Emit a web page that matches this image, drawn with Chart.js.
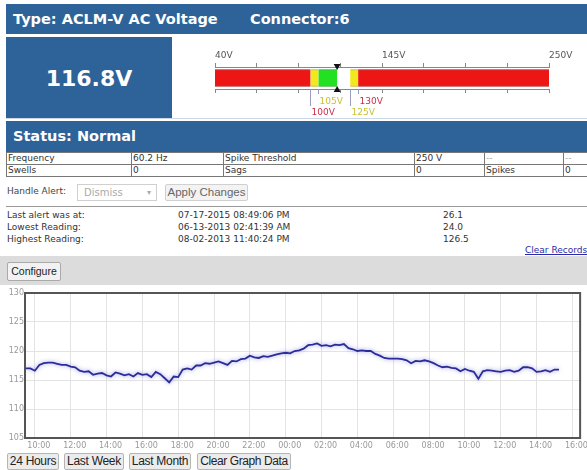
<!DOCTYPE html>
<html>
<head>
<meta charset="utf-8">
<script src="https://cdn.jsdelivr.net/npm/chart.js@4.4.1/dist/chart.umd.min.js"></script>
<style>
  body { margin: 0; width: 587px; height: 470px; overflow: hidden; background: #fff; position: relative;
         font-family: "DejaVu Sans", Verdana, sans-serif; color: #333; }
  .abs { position: absolute; }
  .blue { background: #2e6399; color: #fff; font-weight: bold; }
  .info { border-collapse: collapse; table-layout: fixed; width: 597px; font-size: 9px; }
  .info td { border: 1px solid #777; height: 11px; padding: 0 1px; line-height: 11px; white-space: nowrap; overflow: hidden; }
  .info td.dim { color: #aaa; }
  .small { font-size: 9px; line-height: 12px; }
  .btn { position: absolute; box-sizing: border-box; border: 1px solid #b5b5b5; background: #ececec; border-radius: 2px;
         font-family: "Liberation Sans", Arial, sans-serif; color: #222; text-align: center; white-space: nowrap; padding: 0; }
</style>
</head>
<body>
  <div class="abs blue" style="left:6px;top:4px;width:581px;height:30px;font-size:14.5px;line-height:31px;">
    <span class="abs" style="left:7px;">Type: ACLM-V AC Voltage</span>
    <span class="abs" style="left:244px;">Connector:6</span>
  </div>
  <div class="abs blue" style="left:6px;top:37px;width:166px;height:81px;font-size:22px;line-height:83px;text-align:center;">116.8V</div>
  <div class="abs" style="left:172px;top:37px;width:415px;height:81px;">
    <canvas id="gauge" width="415" height="81"></canvas>
  </div>
  <div class="abs" style="left:6px;top:118px;width:581px;height:1px;background:#c8d8ea;"></div>
  <div class="abs blue" style="left:6px;top:121px;width:581px;height:31px;font-size:14.5px;line-height:31px;">
    <span class="abs" style="left:7px;">Status: Normal</span>
  </div>

  <table class="info abs" style="left:6px;top:152px;">
    <colgroup><col style="width:125px"><col style="width:92px"><col style="width:191px"><col style="width:70px"><col style="width:79px"><col style="width:40px"></colgroup>
    <tr><td>Frequency</td><td>60.2 Hz</td><td>Spike Threshold</td><td>250 V</td><td class="dim">--</td><td class="dim">--</td></tr>
    <tr><td>Swells</td><td>0</td><td>Sags</td><td>0</td><td>Spikes</td><td>0</td></tr>
  </table>

  <div class="abs" style="left:7px;top:186px;font-size:9px;color:#444;">Handle Alert:</div>
  <div class="abs" style="left:77px;top:184px;width:78px;height:15px;border:1px solid #d0d0d0;font-size:10px;line-height:15px;color:#aaa;">
    <span class="abs" style="left:6px;">Dismiss</span><span class="abs" style="right:5px;font-size:8px;">&#9662;</span>
  </div>
  <div class="btn" style="left:165px;top:184px;width:83px;height:17px;font-size:11.5px;line-height:15px;color:#666;background:#f3f3f3;border-color:#d0d0d0;">Apply Changes</div>
  <div class="abs" style="left:6px;top:206px;width:581px;height:1px;background:#999;"></div>

  <div class="abs small" style="left:7px;top:209px;">Last alert was at:<br>Lowest Reading:<br>Highest Reading:</div>
  <div class="abs small" style="left:178px;top:209px;">07-17-2015 08:49:06 PM<br>06-13-2013 02:41:39 AM<br>08-02-2013 11:40:24 PM</div>
  <div class="abs small" style="left:443px;top:209px;">26.1<br>24.0<br>126.5</div>
  <div class="abs small" style="left:525px;top:244px;color:#2a2aa8;text-decoration:underline;white-space:nowrap;">Clear Records</div>

  <div class="abs" style="left:0;top:256px;width:587px;height:29px;background:#dcdcdc;"></div>
  <div class="btn" style="left:7px;top:262px;width:54px;height:19px;font-size:10.5px;line-height:17px;background:#f2f2f2;border-color:#aaa;">Configure</div>

  <div class="abs" style="left:0;top:286px;width:587px;height:166px;">
    <canvas id="voltage-chart" width="587" height="166"></canvas>
  </div>

  <div class="btn" style="left:7px;top:453px;width:52px;height:17px;font-size:12px;line-height:15px;letter-spacing:-0.3px;">24 Hours</div>
  <div class="btn" style="left:64px;top:453px;width:60px;height:17px;font-size:12px;line-height:15px;letter-spacing:-0.3px;">Last Week</div>
  <div class="btn" style="left:129px;top:453px;width:62px;height:17px;font-size:12px;line-height:15px;letter-spacing:-0.3px;">Last Month</div>
  <div class="btn" style="left:197px;top:453px;width:94px;height:17px;font-size:12px;line-height:15px;letter-spacing:-0.4px;">Clear Graph Data</div>

<script>
Chart.defaults.font.family = '"DejaVu Sans", Verdana, sans-serif';

// gauge
let currentVoltage = 116.8;
let gaugeSegments = [[40, 100], [100, 105], [105, 116.8], [116.8, 125], [125, 130], [130, 250]];
let gaugeColors = ['#ee1515', '#f2e81e', '#22e022', '#ffffff', '#f2e81e', '#ee1515'];
let gaugeEdges = ['#a51010', '#b8ae10', '#18a018', '#ffffff', '#b8ae10', '#a51010'];
let gaugeTicks = [40, 66.25, 92.5, 118.75, 145, 171.25, 197.5, 223.75, 250];
let gaugeTickLabels = ['40V', '', '', '', '145V', '', '', '', '250V'];
let thresholds = [100, 105, 125, 130];
let thresholdLabels = ['100V', '105V', '125V', '130V'];
let thresholdColors = ['#c8304c', '#c9c032', '#c9c032', '#c8304c'];

// graph
let firstSampleHour = 9.5;   // 09:30, samples every 15 minutes
let sampleStepHours = 0.25;
let voltage = [
  117.0, 117.0, 116.6, 117.6, 117.9, 118.0, 118.0, 117.8, 117.6, 117.6,
  117.3, 117.2, 116.6, 116.4, 116.5, 115.9, 116.1, 116.2, 115.8, 115.6,
  116.3, 116.1, 115.8, 116.0, 115.6, 116.2, 115.9, 116.0, 115.5, 116.4,
  116.0, 115.3, 114.6, 115.6, 115.5, 116.8, 117.0, 116.8, 117.5, 117.5,
  117.9, 117.8, 118.0, 118.2, 117.9, 117.6, 118.3, 118.2, 118.6, 118.7,
  119.2, 118.9, 118.8, 119.1, 119.0, 119.2, 119.4, 119.6, 119.7, 119.6,
  120.0, 120.1, 120.4, 121.0, 121.1, 121.3, 120.9, 121.0, 120.8, 121.1,
  121.0, 121.2, 120.5, 120.3, 120.0, 120.1, 120.0, 120.0, 119.5, 119.2,
  118.8, 118.7, 118.7, 118.7, 118.6, 118.4, 117.9, 118.3, 118.2, 118.4,
  118.2, 117.9, 117.5, 117.2, 117.3, 117.1, 117.0, 116.5, 116.9, 116.6,
  116.4, 115.2, 116.5, 116.7, 116.6, 116.5, 116.4, 116.6, 116.7, 116.4,
  116.6, 117.2, 117.2, 117.0, 116.4, 116.5, 116.7, 116.4, 116.8, 116.8
];
let hourTicks = [10, 12, 14, 16, 18, 20, 22, 24, 26, 28, 30, 32, 34, 36, 38, 40];
let hourTickLabels = ['10:00', '12:00', '14:00', '16:00', '18:00', '20:00', '22:00', '00:00',
                      '02:00', '04:00', '06:00', '08:00', '10:00', '12:00', '14:00', '16:00'];
let voltTicks = [105, 110, 115, 120, 125, 130];

// ---------- gauge bar ----------
let gaugeMarks = {
  id: 'gaugeMarks',
  afterDraw(chart) {
    let {ctx, chartArea} = chart;
    let x = chart.scales.x;
    let longLine = [true, false, true, false];
    let row = [24, 12.5, 24, 12.5];
    ctx.save();
    ctx.font = '9px "DejaVu Sans"';
    ctx.textBaseline = 'middle';
    thresholds.forEach((t, i) => {
      let px = Math.round(x.getPixelForValue(t)) + 0.5;
      ctx.strokeStyle = '#9c9cc0';
      ctx.lineWidth = 1;
      ctx.beginPath();
      ctx.moveTo(px, chartArea.bottom);
      ctx.lineTo(px, chartArea.bottom + (longLine[i] ? 17 : 5));
      ctx.stroke();
      ctx.fillStyle = thresholdColors[i];
      ctx.fillText(thresholdLabels[i], px + 1, chartArea.bottom + row[i]);
    });
    let mx = x.getPixelForValue(currentVoltage);
    ctx.fillStyle = '#111';
    ctx.beginPath();
    ctx.moveTo(mx - 3.5, chartArea.top - 3);
    ctx.lineTo(mx + 3.5, chartArea.top - 3);
    ctx.lineTo(mx, chartArea.top + 3);
    ctx.closePath();
    ctx.fill();
    ctx.beginPath();
    ctx.moveTo(mx - 3.5, chartArea.bottom + 3);
    ctx.lineTo(mx + 3.5, chartArea.bottom + 3);
    ctx.lineTo(mx, chartArea.bottom - 3);
    ctx.closePath();
    ctx.fill();
    ctx.restore();
  }
};

let setGaugeTicks = s => { s.ticks = gaugeTicks.map(v => ({value: v})); };

new Chart(document.getElementById('gauge'), {
  type: 'bar',
  data: {
    labels: ['V'],
    datasets: gaugeSegments.map((seg, i) => ({
      data: [seg],
      backgroundColor: gaugeColors[i],
      borderColor: gaugeEdges[i],
      borderWidth: {top: 1, bottom: 1, left: 0, right: 0},
      borderSkipped: false,
      barThickness: 17,
      grouped: false
    }))
  },
  options: {
    indexAxis: 'y',
    responsive: false,
    animation: false,
    layout: {padding: {left: 43, right: 38, top: 0, bottom: 0}},
    plugins: {legend: {display: false}, tooltip: {enabled: false}},
    scales: {
      x: {
        position: 'top', min: 40, max: 250,
        afterBuildTicks: setGaugeTicks,
        afterFit: s => { s.height = 30; },
        ticks: {
          align: 'start', autoSkip: false, maxRotation: 0, padding: 2,
          color: '#555', font: {size: 9},
          callback: (v, i) => gaugeTickLabels[i]
        },
        grid: {drawOnChartArea: false, tickLength: 4, color: '#888'},
        border: {color: '#888'}
      },
      x2: {
        axis: 'x', position: 'bottom', min: 40, max: 250,
        afterBuildTicks: setGaugeTicks,
        afterFit: s => { s.height = 29; },
        ticks: {display: false},
        grid: {drawOnChartArea: false, tickLength: 4, color: '#888'},
        border: {color: '#888'}
      },
      y: {display: false}
    }
  },
  plugins: [gaugeMarks]
});

// ---------- voltage graph ----------
let points = voltage.map((v, i) => ({x: firstSampleHour + i * sampleStepHours, y: v}));

let frameAndGlow = {
  id: 'frameAndGlow',
  beforeDatasetsDraw(chart) {
    let {ctx, chartArea: a} = chart;
    ctx.save();
    ctx.strokeStyle = '#555';
    ctx.lineWidth = 2;
    ctx.strokeRect(a.left, a.top, a.right - a.left, a.bottom - a.top);
    ctx.restore();
    ctx.save();
    ctx.shadowColor = 'rgba(90, 90, 220, 0.6)';
    ctx.shadowBlur = 4;
  },
  afterDatasetsDraw(chart) {
    chart.ctx.restore();
  }
};

new Chart(document.getElementById('voltage-chart'), {
  type: 'line',
  data: {
    datasets: [{
      data: points,
      borderColor: '#2c2c98',
      borderWidth: 1.8,
      pointRadius: 0,
      tension: 0
    }]
  },
  options: {
    responsive: false,
    animation: false,
    layout: {padding: {top: 7, right: 4, left: 0, bottom: 0}},
    plugins: {legend: {display: false}, tooltip: {enabled: false}},
    scales: {
      x: {
        type: 'linear', min: 9.45, max: 40.43,
        afterBuildTicks: s => { s.ticks = hourTicks.map(v => ({value: v})); },
        afterFit: s => { s.height = 14; },
        ticks: {
          autoSkip: false, maxRotation: 0, padding: 3, labelOffset: 4,
          color: '#999', font: {size: 8},
          callback: (v, i) => hourTickLabels[i]
        },
        grid: {color: '#e3e3e3', drawTicks: false},
        border: {display: false}
      },
      y: {
        min: 105, max: 130,
        afterBuildTicks: s => { s.ticks = voltTicks.map(v => ({value: v})); },
        afterFit: s => { s.width = 25; },
        ticks: {padding: 1, color: '#999', font: {size: 8}},
        grid: {color: '#e3e3e3', drawTicks: false},
        border: {display: false}
      }
    }
  },
  plugins: [frameAndGlow]
});
</script>
</body>
</html>
